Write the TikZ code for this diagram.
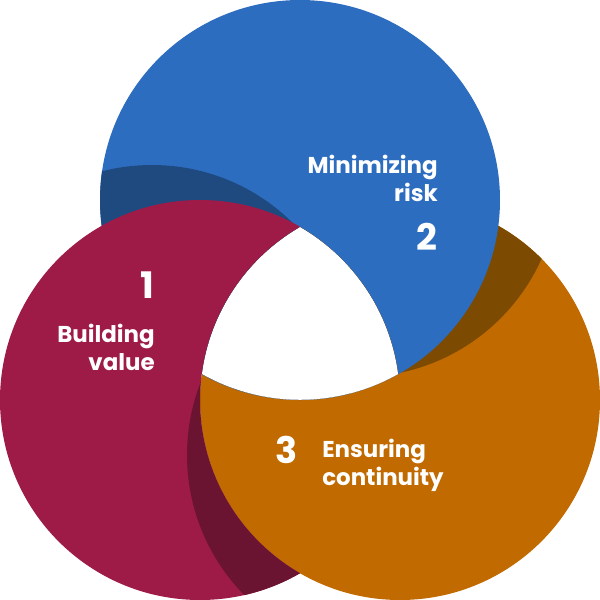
\documentclass[tikz,border=0pt]{standalone}
\usepackage{fontspec}
\setmainfont{Poppins}
\usepackage{tikz}
\usetikzlibrary{positioning}
\definecolor{myblue}{RGB}{45,109,191}
\definecolor{myred}{RGB}{158,27,71}
\definecolor{myorange}{RGB}{192,106,0}
\definecolor{shdblue}{RGB}{31,74,128}
\definecolor{shdred}{RGB}{107,20,50}
\definecolor{shdorange}{RGB}{125,74,2}
\tikzset{
  ring/.style={radius=200},
  numtext/.style={text=white, inner sep=0pt,
    font=\fontsize{26}{26}\selectfont\bfseries},
  ringtext/.style={text=white, inner sep=0pt,
    font=\fontsize{16.3}{20.1}\selectfont\bfseries}
}

\begin{document}
\begin{tikzpicture}[x=0.025cm, y=-0.025cm]
  \useasboundingbox (0,0) rectangle (600,600);

  % Circle centres and shadow centres
  \coordinate (cblue) at (300,200);
  \coordinate (cred) at (200,400);
  \coordinate (corange) at (400,400);
  \coordinate (sred) at (152,365);
  \coordinate (sblue) at (359,177);
  \coordinate (sorange) at (387,455);

  \begin{scope}
    % keep the middle empty
    \clip (-10,-10) -- (610,-10) -- (610,610) -- (-10,610) -- cycle
      (300,226.79) arc[start angle=240, end angle=187.42, ring]
      arc[start angle=119.45, end angle=60.55, ring]
      arc[start angle=-7.42, end angle=-60, ring] -- cycle;

    % Orange with shadow of blue
    \fill[myorange] (corange) circle[ring];
    \begin{scope}
      \clip (corange) circle[ring];
      \fill[shdorange] (sblue) circle[ring];
    \end{scope}

    % Blue with shadow of red
    \fill[myblue] (cblue) circle[ring];
    \begin{scope}
      \clip (cblue) circle[ring];
      \fill[shdblue] (sred) circle[ring];
    \end{scope}

    % Red (under orange) with shadow of orange
    \begin{scope}
      \clip (-10,-10) -- (610,-10) -- (610,610) -- (-10,610) -- cycle
        (600,400) arc[start angle=0, end angle=-360, ring] -- cycle;
      \fill[myred] (cred) circle[ring];
      \clip (cred) circle[ring];
      \fill[shdred] (sorange) circle[ring];
    \end{scope}
  \end{scope}

  % Texts
  \node[numtext, anchor=base east] (num1) at (155,298) {1};
  \node[ringtext, anchor=north east, align=right] (txt1) at (155,324) {Building\\value};
  \node[numtext, anchor=base east] (num2) at (438,250) {2};
  \node[ringtext, anchor=north east, align=right] (txt2) at (438,155) {Minimizing\\risk};
  \node[numtext, anchor=base east] (num3) at (298,463) {3};
  \node[ringtext, anchor=north west, align=left] (txt3) at (322,439) {Ensuring\\continuity};
\end{tikzpicture}
\end{document}
